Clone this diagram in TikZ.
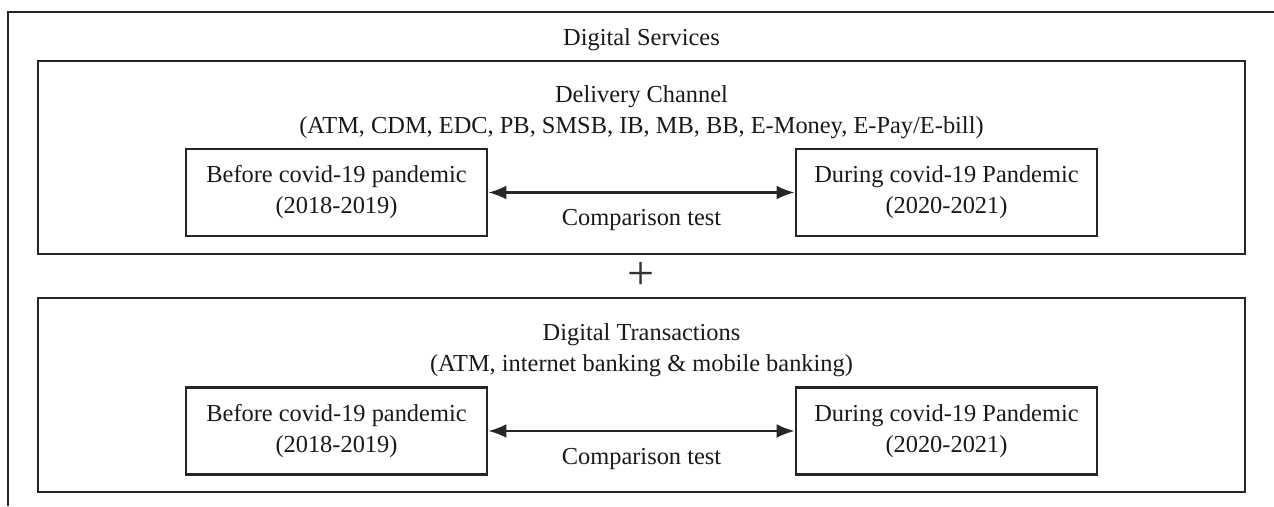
\documentclass[tikz,border=0pt]{standalone}
\usepackage{fontspec}
\setmainfont{Liberation Serif}
\usetikzlibrary{arrows.meta}
\begin{document}
\begin{tikzpicture}[x=1pt,y=-1pt,
  every node/.style={font=\fontsize{24.4}{31}\selectfont, inner sep=0pt, text=black!90},
  frame/.style={draw=black!85, line width=2.8pt},
  panel/.style={frame, minimum width=1207pt},
  period/.style={frame, minimum width=301pt, minimum height=87pt, align=center},
  cmp/.style={line width=2.4pt, draw=black!85, {Latex[length=18pt,width=14pt]}-{Latex[length=18pt,width=14pt]}},
  lbl/.style={anchor=base},
]
\useasboundingbox (0,0) rectangle (1274,506);
% outer frame (top and left edges)
\coordinate (fb) at (8,506);
\coordinate (fr) at (1274,12);
\draw[frame] (fb) |- (fr);
\node[lbl] (title) at (641.5,45) {Digital Services};

% panel 1
\node[panel, minimum height=193pt] (p1) at (641.5,157.5) {};
\node[lbl] (p1a) at (641.5,102) {Delivery Channel};
\node[lbl] (p1b) at (641.5,133) {(ATM, CDM, EDC, PB, SMSB, IB, MB, BB, E-Money, E-Pay/E-bill)};
\node[period] (b1) at (336.5,192.5) {Before covid-19 pandemic\\(2018-2019)};
\node[period] (d1) at (946.5,192.5) {During covid-19 Pandemic\\(2020-2021)};
\draw[cmp] (b1) -- (d1);
\node[lbl] (c1) at (641.5,225) {Comparison test};

% plus
\node[font=\fontsize{48}{48}\selectfont, text=black!80] (plus) at (641.5,276) {+};

% panel 2
\node[panel, minimum height=194pt] (p2) at (641.5,395) {};
\node[lbl] (p2a) at (641.5,340) {Digital Transactions};
\node[lbl] (p2b) at (641.5,371) {(ATM, internet banking \& mobile banking)};
\node[period] (b2) at (336.5,431) {Before covid-19 pandemic\\(2018-2019)};
\node[period] (d2) at (946.5,431) {During covid-19 Pandemic\\(2020-2021)};
\draw[cmp] (b2) -- (d2);
\node[lbl] (c2) at (641.5,464) {Comparison test};
\end{tikzpicture}
\end{document}
